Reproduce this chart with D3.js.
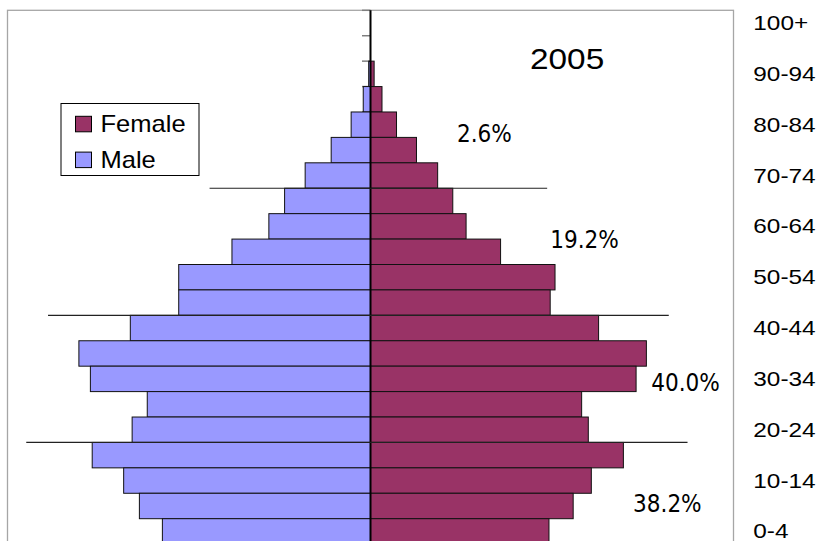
<!DOCTYPE html>
<html>
<head>
<meta charset="utf-8">
<script src="https://cdn.jsdelivr.net/npm/d3@7"></script>
<style>
  html, body { margin: 0; padding: 0; background: #fff; }
  svg { display: block; }
</style>
</head>
<body>
<svg id="chart" width="825" height="541"></svg>
<script>
// Age groups, oldest first (top of the pyramid)
const ageGroups = ["100+", "95-99", "90-94", "85-89", "80-84", "75-79", "70-74",
  "65-69", "60-64", "55-59", "50-54", "45-49", "40-44", "35-39", "30-34",
  "25-29", "20-24", "15-19", "10-14", "5-9", "0-4"];

// Share of total population (%) by age group
const maleShare = [0.00, 0.00, 0.03, 0.12, 0.32, 0.65, 1.08,
  1.42, 1.68, 2.29, 3.17, 3.17, 3.97, 4.82, 4.63,
  3.69, 3.94, 4.60, 4.08, 3.82, 3.44];
const femaleShare = [0.00, 0.00, 0.06, 0.19, 0.43, 0.76, 1.11,
  1.36, 1.58, 2.15, 3.05, 2.97, 3.77, 4.56, 4.39,
  3.49, 3.60, 4.18, 3.65, 3.35, 2.95];

// Age labels shown on the right-hand axis
const ageTickLabels = ["100+", "90-94", "80-84", "70-74", "60-64", "50-54",
  "40-44", "30-34", "20-24", "10-14", "0-4"];

// Broad age bands: youngest group above each divider line, with its share
const bandBreaks = ["70-74", "45-49", "20-24"];
const bandShares = ["2.6%", "19.2%", "40.0%", "38.2%"];

const seriesNames = ["Female", "Male"];
const chartYear = "2005";

const colors = { Female: "#993366", Male: "#9999FF" };

const svg = d3.select("#chart");
const W = 825, H = 541;
svg.append("rect").attr("width", W).attr("height", H).attr("fill", "#fff");

const plot = { left: 7.5, right: 733.5, top: 10.3 };

const x = d3.scaleLinear().domain([-6, 6]).range([plot.left, plot.right]);
const y = d3.scaleBand().domain(ageGroups)
  .range([plot.top, plot.top + ageGroups.length * 25.42]).padding(0);
const bw = y.bandwidth();
const x0 = x(0);

// Plot-area frame
svg.append("rect")
  .attr("x", plot.left).attr("y", plot.top)
  .attr("width", plot.right - plot.left).attr("height", 600)
  .attr("fill", "none").attr("stroke", "#a6a6a6").attr("stroke-width", 1.3);

// Category tick marks on the central axis
const boundaries = ageGroups.map(a => y(a)).concat([y(ageGroups[ageGroups.length - 1]) + bw]);
svg.append("g").selectAll("line").data(boundaries).join("line")
  .attr("x1", x0 - 8.5).attr("x2", x0)
  .attr("y1", d => d).attr("y2", d => d)
  .attr("stroke", "#7f7f7f").attr("stroke-width", 1.5);

const rows = ageGroups.map((a, i) => ({ age: a, male: maleShare[i], female: femaleShare[i] }));

// Male bars extend left, female bars extend right
svg.append("g").selectAll("rect").data(rows.filter(d => d.male > 0)).join("rect")
  .attr("x", d => x(-d.male)).attr("y", d => y(d.age))
  .attr("width", d => x0 - x(-d.male)).attr("height", bw)
  .attr("fill", colors.Male).attr("stroke", "#111").attr("stroke-width", 1);

svg.append("g").selectAll("rect").data(rows.filter(d => d.female > 0)).join("rect")
  .attr("x", x0).attr("y", d => y(d.age))
  .attr("width", d => x(d.female) - x0).attr("height", bw)
  .attr("fill", colors.Female).attr("stroke", "#111").attr("stroke-width", 1);

// Central vertical axis
svg.append("line")
  .attr("x1", x0).attr("x2", x0).attr("y1", plot.top).attr("y2", H)
  .attr("stroke", "#000").attr("stroke-width", 2);

// Divider lines between broad age bands (extent in axis units)
const breakExtent = [[-2.66, 2.92], [-5.33, 4.93], [-5.69, 5.24]];
svg.append("g").selectAll("line").data(bandBreaks).join("line")
  .attr("x1", (d, i) => x(breakExtent[i][0]))
  .attr("x2", (d, i) => x(breakExtent[i][1]))
  .attr("y1", d => y(d) + bw).attr("y2", d => y(d) + bw)
  .attr("stroke", "#222").attr("stroke-width", 1.2);

// Band share labels
const shareLayout = [[1.43, 142.3], [2.97, 248.3], [4.64, 391], [4.34, 511.7]];
svg.append("g").selectAll("text").data(bandShares).join("text")
  .attr("x", (d, i) => x(shareLayout[i][0]))
  .attr("y", (d, i) => shareLayout[i][1])
  .attr("font-family", "'DejaVu Sans Condensed', 'DejaVu Sans', sans-serif")
  .attr("font-stretch", "condensed")
  .attr("font-size", 24)
  .attr("fill", "#000")
  .text(d => d);

// Age labels on the right
svg.append("g").selectAll("text").data(ageTickLabels).join("text")
  .attr("transform", d => `translate(753.3,${y(d) + bw / 2 + 7}) scale(1.16,1)`)
  .attr("font-family", "'Liberation Sans', Arial, sans-serif")
  .attr("font-size", 21)
  .attr("fill", "#000")
  .text(d => d);

// Year title
svg.append("text")
  .attr("transform", "translate(530,69) scale(1.15,1)")
  .attr("font-family", "'Liberation Sans', Arial, sans-serif")
  .attr("font-size", 29)
  .attr("fill", "#000")
  .text(chartYear);

// Legend
const legend = svg.append("g");
legend.append("rect")
  .attr("x", 61).attr("y", 103.5).attr("width", 138).attr("height", 72)
  .attr("fill", "#fff").attr("stroke", "#000").attr("stroke-width", 1);
const legendItems = legend.selectAll("g").data(seriesNames).join("g")
  .attr("transform", (d, i) => `translate(0,${i * 35.8})`);
legendItems.append("rect")
  .attr("x", 75.5).attr("y", 116.3).attr("width", 16).attr("height", 15.5)
  .attr("fill", d => colors[d]).attr("stroke", "#000").attr("stroke-width", 1);
legendItems.append("text")
  .attr("transform", "translate(100.5,132.3) scale(1.11,1)")
  .attr("font-family", "'Liberation Sans', Arial, sans-serif")
  .attr("font-size", 23)
  .attr("fill", "#000")
  .text(d => d);
</script>
</body>
</html>
